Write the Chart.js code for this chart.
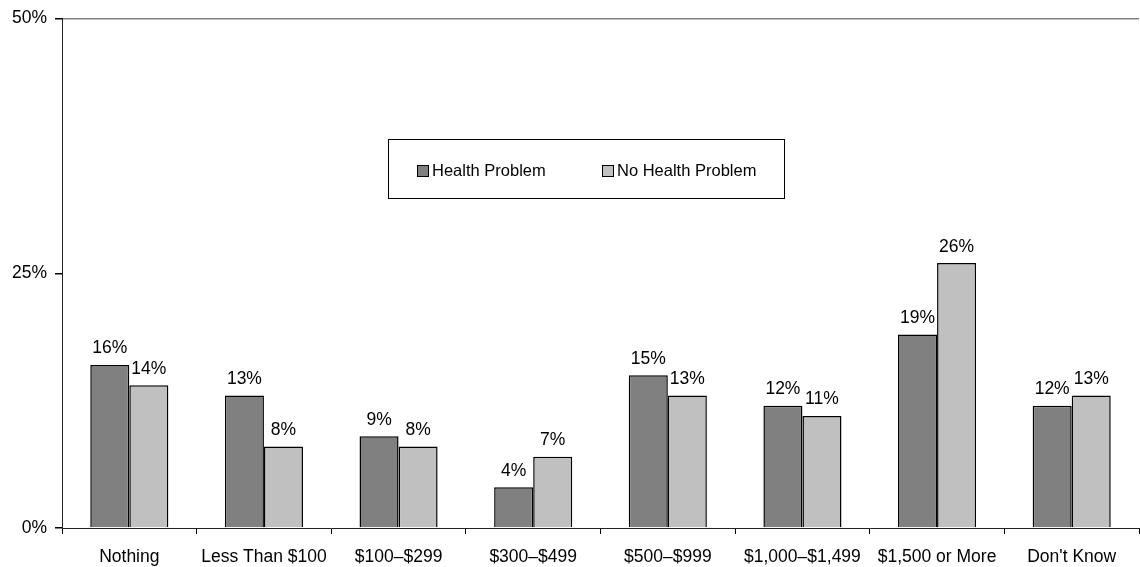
<!DOCTYPE html>
<html>
<head>
<meta charset="utf-8">
<script src="https://cdn.jsdelivr.net/npm/chart.js@4/dist/chart.umd.min.js"></script>
<style>
  html, body { margin: 0; padding: 0; background: #fff; }
  #wrap { width: 1140px; height: 567px; position: relative; }
</style>
</head>
<body>
<div id="wrap"><canvas id="myChart"></canvas></div>
<script>
var categorias = ["Nothing", "Less Than $100", "$100\u2013$299", "$300\u2013$499", "$500\u2013$999", "$1,000\u2013$1,499", "$1,500 or More", "Don't Know"]
var comProblema = [16, 13, 9, 4, 15, 12, 19, 12]
var semProblema = [14, 8, 8, 7, 13, 11, 26, 13]
var nomesSeries = ["Health Problem", "No Health Problem"]
var coresSeries = ["#808080", "#c0c0c0"]
var ticksY = [0, 25, 50]

var fonte = "'Liberation Sans', Arial, sans-serif"

// rotulos em cima das barras
const rotulos = {
    id: 'rotulos',
    afterDatasetsDraw(chart) {
        const ctx = chart.ctx
        ctx.save()
        ctx.font = "17.5px " + fonte
        ctx.fillStyle = "#000"
        ctx.textAlign = "center"
        ctx.textBaseline = "alphabetic"
        chart.data.datasets.forEach(function(ds, i) {
            chart.getDatasetMeta(i).data.forEach(function(bar, j) {
                ctx.fillText(ds.data[j] + "%", bar.x, bar.y - 11.5)
            })
        })
        ctx.restore()
    }
}

// legenda em caixa no meio do grafico
const legendaCaixa = {
    id: 'legendaCaixa',
    afterDraw(chart) {
        const ctx = chart.ctx
        ctx.save()
        ctx.fillStyle = "#fff"
        ctx.fillRect(388.5, 139.5, 396, 59)
        ctx.strokeStyle = "#000"
        ctx.lineWidth = 1
        ctx.strokeRect(388.5, 139.5, 396, 59)
        var xs = [417, 602]
        ctx.font = "16.5px " + fonte
        ctx.textBaseline = "middle"
        ctx.textAlign = "left"
        for (var i = 0; i < nomesSeries.length; i++) {
            ctx.fillStyle = coresSeries[i]
            ctx.fillRect(xs[i] + 0.5, 165.5, 11, 11)
            ctx.strokeRect(xs[i] + 0.5, 165.5, 11, 11)
            ctx.fillStyle = "#000"
            ctx.fillText(nomesSeries[i], xs[i] + 15, 171)
        }
        ctx.restore()
    }
}

const ctx = document.getElementById('myChart');
new Chart(ctx, {
    type: 'bar',
    data: {
        labels: categorias,
        datasets: [{
            label: nomesSeries[0],
            backgroundColor: coresSeries[0],
            borderColor: "#000",
            borderWidth: 1.5,
            data: comProblema
        }, {
            label: nomesSeries[1],
            backgroundColor: coresSeries[1],
            borderColor: "#000",
            borderWidth: 1.5,
            data: semProblema
        }]
    },
    options: {
        responsive: true,
        maintainAspectRatio: false,
        animation: false,
        layout: { padding: { top: 18, right: 1, left: 0, bottom: 0 } },
        datasets: { bar: { categoryPercentage: 0.58, barPercentage: 1.0 } },
        plugins: {
            legend: { display: false },
            tooltip: { enabled: false }
        },
        scales: {
            x: {
                grid: { display: true, color: "transparent", tickColor: "#000", tickLength: 6, offset: true },
                border: { display: true, color: "#222", width: 1 },
                ticks: { color: "#000", font: { size: 17.5, family: fonte }, padding: 13, maxRotation: 0, autoSkip: false },
                afterFit: function(scale) { scale.height = 39 }
            },
            y: {
                min: 0,
                max: 50,
                afterBuildTicks: function(scale) { scale.ticks = ticksY.map(function(v) { return { value: v } }) },
                grid: {
                    color: function(c) { return c.tick && c.tick.value === 50 ? "#808080" : "transparent" },
                    tickColor: "#000",
                    tickLength: 7,
                    lineWidth: 1.5
                },
                border: { display: true, color: "#222", width: 1 },
                ticks: {
                    color: "#000",
                    font: { size: 17.5, family: fonte },
                    padding: 8,
                    callback: function(v) { return v + "%" }
                },
                afterFit: function(scale) { scale.width = 62 }
            }
        }
    },
    plugins: [rotulos, legendaCaixa]
})
</script>
</body>
</html>
